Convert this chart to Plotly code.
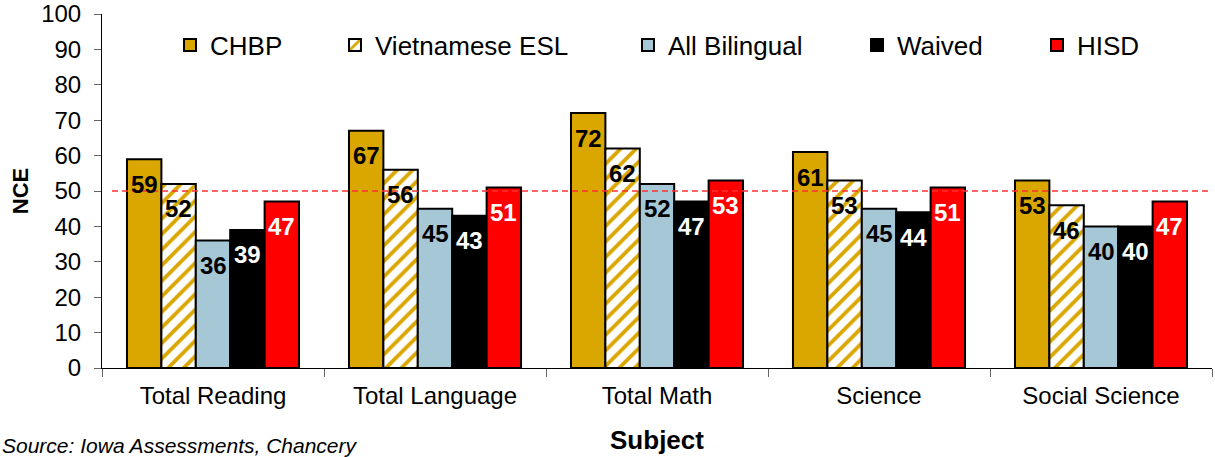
import plotly.graph_objects as go

subjects = ["Total Reading", "Total Language", "Total Math", "Science", "Social Science"]
series_names = ["CHBP", "Vietnamese ESL", "All Bilingual", "Waived", "HISD"]
chbp = [59, 67, 72, 61, 53]
viet_esl = [52, 56, 62, 53, 46]
all_bilingual = [36, 45, 52, 45, 40]
waived = [39, 43, 47, 44, 40]
hisd = [47, 51, 53, 51, 47]
reference_line = 50
y_ticks = list(range(0, 101, 10))

series_values = [chbp, viet_esl, all_bilingual, waived, hisd]
fill_colors = ["#DAA600", "#FFFFFF", "#A6C8D6", "#000000", "#FF0000"]
label_colors = ["#000000", "#000000", "#000000", "#FFFFFF", "#FFFFFF"]
legend_ids = ["legend", "legend2", "legend3", "legend4", "legend5"]
legend_text_px = [210, 375, 668, 897, 1077]

FONT = "Liberation Sans, Arial, sans-serif"
W, H = 1215, 457
ML, MR, MT, MB = 102, 3, 14, 89
BARGAP = 0.225
plot_w = W - ML - MR
plot_h = H - MT - MB
bar_px = plot_w / len(subjects) * (1 - BARGAP) / len(series_names)


def px_to_paper_x(px):
    return (px - ML) / plot_w


def px_to_paper_y(py):
    return (H - MB - py) / plot_h


fig = go.Figure()
for i, (name, vals) in enumerate(zip(series_names, series_values)):
    marker = dict(color=fill_colors[i], line=dict(color="#000000", width=2))
    if name == "Vietnamese ESL":
        marker["pattern"] = dict(shape="/", fgcolor="#DAA600", bgcolor="#FFFFFF",
                                 size=11, solidity=0.35, fillmode="replace")
    fig.add_trace(go.Bar(
        x=subjects, y=vals, name=name, marker=marker,
        legend=legend_ids[i], hoverinfo="x+y+name",
    ))
    for s, v in zip(subjects, vals):
        fig.add_annotation(
            x=s, y=v, xref="x", yref="y", text=f"<b>{v}</b>", showarrow=False,
            xshift=(i - 2) * bar_px, yshift=-25, yanchor="middle",
            font=dict(family=FONT, size=24, color=label_colors[i]),
        )

fig.add_shape(type="line", xref="paper", yref="y", x0=0.009, x1=1,
              y0=reference_line, y1=reference_line,
              line=dict(color="#FF3030", width=1.5, dash="6px,4px"))

fig.add_annotation(
    xref="paper", yref="paper", x=px_to_paper_x(0), y=px_to_paper_y(445),
    xanchor="left", yanchor="middle", showarrow=False,
    text="<i>Source: Iowa Assessments, Chancery</i>",
    font=dict(family=FONT, size=21, color="#000000"),
)

layout_legends = {}
for lid, tx in zip(legend_ids, legend_text_px):
    layout_legends[lid] = dict(
        xref="paper", yref="paper", x=px_to_paper_x(tx - 40), y=px_to_paper_y(45),
        xanchor="left", yanchor="middle", orientation="h",
        bgcolor="rgba(0,0,0,0)", borderwidth=0,
        font=dict(family=FONT, size=26, color="#000000"),
    )

fig.update_layout(
    width=W, height=H,
    margin=dict(l=ML, r=MR, t=MT, b=MB, pad=0, autoexpand=False),
    paper_bgcolor="#FFFFFF", plot_bgcolor="#FFFFFF",
    barmode="group", bargap=BARGAP, bargroupgap=0,
    font=dict(family=FONT, color="#000000"),
    showlegend=True,
    **layout_legends,
)
fig.update_xaxes(
    showgrid=False, showline=True, linecolor="#000000", linewidth=1,
    ticks="outside", tickson="boundaries", ticklen=8, tickcolor="#666666",
    tickfont=dict(family=FONT, size=24, color="#000000"),
    ticklabelstandoff=6,
    title=dict(text="<b>Subject</b>", font=dict(family=FONT, size=26, color="#000000"), standoff=23),
    automargin=False,
)
fig.update_yaxes(
    range=[0, 100], tickvals=y_ticks, showgrid=False, zeroline=False,
    showline=True, linecolor="#000000", linewidth=1,
    ticks="outside", ticklen=7, tickcolor="#666666",
    tickfont=dict(family=FONT, size=24, color="#000000"),
    ticklabelstandoff=8,
    title=dict(text="<b>NCE</b>", font=dict(family=FONT, size=22, color="#000000"), standoff=6),
    automargin=False,
)

fig.write_html("out.html", config={"displayModeBar": False},
               post_script="document.body.style.margin='0px';")
